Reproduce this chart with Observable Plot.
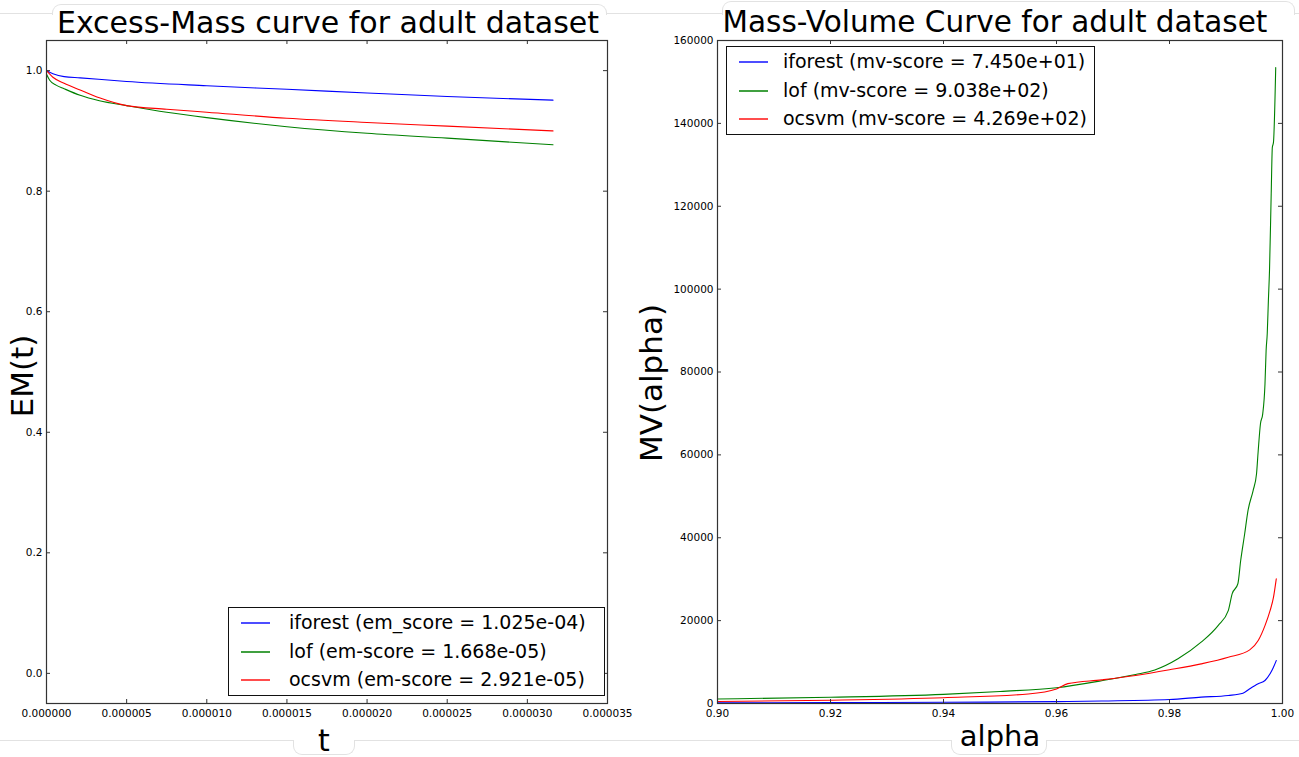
<!DOCTYPE html>
<html><head><meta charset="utf-8">
<script src="https://cdn.jsdelivr.net/npm/d3@7"></script>
<script src="https://cdn.jsdelivr.net/npm/@observablehq/plot@0.6"></script>
<style>
html,body{margin:0;padding:0;background:#fff;}
#wrap{position:relative;width:1299px;height:757px;overflow:hidden;font-family:"DejaVu Sans",sans-serif;color:#000;}
.abs{position:absolute;white-space:nowrap;line-height:1;}
.hline{position:absolute;height:1px;background:#e2e2e2;left:0;width:1299px;}
.tbox{position:absolute;background:#fff;border:1px solid #e2e2e2;border-bottom:none;border-radius:9px 9px 0 0;}
.bbox{position:absolute;background:#fff;border:1px solid #e2e2e2;border-top:none;border-radius:0 0 9px 9px;}
.legend{position:absolute;border:1.5px solid #111;background:#fff;box-sizing:border-box;}
.legend .sw{position:absolute;height:2px;}
.legend .lt{position:absolute;font-size:19px;line-height:1;white-space:nowrap;}
svg.panel{position:absolute;top:0;}
</style></head><body><div id="wrap"></div>
<script>
// ---------- data: Excess-Mass (left) ----------
const emXTicks = [0, 0.000005, 0.00001, 0.000015, 0.00002, 0.000025, 0.00003, 0.000035];
const emYTicks = [0, 0.2, 0.4, 0.6, 0.8, 1.0];
const emIforestT = [0, 0.0000004, 0.0000011, 0.0000021, 0.000005, 0.00001, 0.000015, 0.00002, 0.000025, 0.0000316];
const emIforestV = [1.0, 0.995, 0.990, 0.988, 0.982, 0.975, 0.969, 0.963, 0.957, 0.951];
const emLofT = [0, 0.0000002, 0.0000006, 0.0000011, 0.0000021, 0.0000033, 0.000005, 0.0000075, 0.00001, 0.000015, 0.00002, 0.000025, 0.0000316];
const emLofV = [0.994, 0.984, 0.976, 0.970, 0.959, 0.950, 0.942, 0.931, 0.922, 0.907, 0.896, 0.888, 0.877];
const emOcsvmT = [0, 0.0000004, 0.0000011, 0.0000021, 0.0000033, 0.000005, 0.0000075, 0.00001, 0.000015, 0.00002, 0.000025, 0.0000316];
const emOcsvmV = [1.0, 0.989, 0.979, 0.968, 0.955, 0.942, 0.936, 0.931, 0.921, 0.914, 0.908, 0.900];
const emLegend = ["iforest (em_score = 1.025e-04)", "lof (em-score = 1.668e-05)", "ocsvm (em-score = 2.921e-05)"];

// ---------- data: Mass-Volume (right) ----------
const mvXTicks = [0.90, 0.92, 0.94, 0.96, 0.98, 1.00];
const mvYTicks = [0, 20000, 40000, 60000, 80000, 100000, 120000, 140000, 160000];
const mvIforestA = [0.900, 0.920, 0.940, 0.960, 0.968, 0.980, 0.9856, 0.9904, 0.9930, 0.9942, 0.9957, 0.9969, 0.9978, 0.9984, 0.9989];
const mvIforestV = [150, 200, 300, 450, 600, 960, 1530, 1930, 2490, 3540, 4750, 5550, 7160, 8760, 10370];
const mvLofA = [0.900, 0.920, 0.940, 0.950, 0.960, 0.968, 0.974, 0.9774, 0.9815, 0.9856, 0.9886, 0.9904, 0.9911, 0.9921, 0.9926, 0.9933, 0.9939, 0.9948, 0.9954, 0.9957, 0.9961, 0.9965, 0.9969, 0.9971, 0.9973, 0.9975, 0.9977, 0.9980, 0.9982, 0.9984, 0.9988];
const mvLofV = [1100, 1500, 2200, 2900, 3800, 5500, 7000, 8100, 10800, 14800, 18800, 22400, 26500, 28900, 34500, 40900, 46600, 51400, 55400, 61000, 67500, 69900, 77100, 85200, 89300, 97200, 104500, 123000, 134200, 135400, 153500];
const mvOcsvmA = [0.900, 0.920, 0.940, 0.955, 0.960, 0.962, 0.968, 0.974, 0.980, 0.9856, 0.9904, 0.9942, 0.9957, 0.9969, 0.9978, 0.9984, 0.9989];
const mvOcsvmV = [480, 800, 1400, 2300, 3500, 4800, 5700, 6750, 8130, 9570, 11170, 12950, 15200, 18800, 22400, 25600, 30100];
const mvLegend = ["iforest (mv-score = 7.450e+01)", "lof (mv-score = 9.038e+02)", "ocsvm (mv-score = 4.269e+02)"];

const colors = ["#0000ff", "#008000", "#ff0000"];
const swatchColors = ["#4d4dff", "#40a040", "#ff4d4d"];

const wrap = document.getElementById("wrap");
function el(cls, css, text, parent) {
  const d = document.createElement("div");
  d.className = cls;
  Object.assign(d.style, css);
  if (text != null) d.textContent = text;
  (parent || wrap).appendChild(d);
  return d;
}

// faint background decorations
el("hline", {top: "13px"});
el("hline", {top: "740px"});
el("tbox", {left: "52px", top: "4px", width: "553px", height: "10px"});
el("tbox", {left: "722px", top: "1px", width: "571px", height: "13px"});
el("bbox", {left: "293px", top: "740px", width: "60px", height: "14px"});
el("bbox", {left: "951px", top: "740px", width: "94px", height: "14px"});

function pts(xs, ys) { return xs.map((x, i) => ({x, y: ys[i]})); }

function panel({width, left, marginLeft, marginRight, xDomain, yDomain, xTicks, yTicks, xFmt, yFmt, series}) {
  const height = 757, marginTop = 40, marginBottom = 54;
  const iw = width - marginLeft - marginRight, ih = height - marginTop - marginBottom, tk = 4;
  const svg = Plot.plot({
    width, height, marginLeft, marginRight, marginTop, marginBottom,
    className: "panel",
    style: {fontFamily: '"DejaVu Sans", sans-serif', fontSize: "10.5px", color: "#000", background: "transparent", overflow: "visible"},
    x: {domain: xDomain},
    y: {domain: yDomain},
    marks: [
      ...series.map((s, i) => Plot.line(pts(s[0], s[1]), {x: "x", y: "y", stroke: colors[i], strokeWidth: 1.1, curve: "monotone-x"})),
      Plot.tickX(xTicks, {x: d => d, insetTop: ih - tk, stroke: "#333"}),
      Plot.tickX(xTicks, {x: d => d, insetBottom: ih - tk, stroke: "#333"}),
      Plot.tickY(yTicks, {y: d => d, insetLeft: iw - tk, stroke: "#333"}),
      Plot.tickY(yTicks, {y: d => d, insetRight: iw - tk, stroke: "#333"}),
      Plot.frame({stroke: "#333", strokeWidth: 1.2}),
      Plot.axisX(xTicks, {tickSize: 0, tickPadding: 6, tickFormat: xFmt, label: null}),
      Plot.axisY(yTicks, {tickSize: 0, tickPadding: 4, tickFormat: yFmt, label: null})
    ]
  });
  svg.classList.add("panel");
  svg.style.left = left + "px";
  wrap.appendChild(svg);
}

panel({width: 640, left: 0, marginLeft: 46, marginRight: 33,
  xDomain: [0, 0.000035], yDomain: [-0.05, 1.05], xTicks: emXTicks, yTicks: emYTicks,
  xFmt: d3.format(".6f"), yFmt: d3.format(".1f"),
  series: [[emIforestT, emIforestV], [emLofT, emLofV], [emOcsvmT, emOcsvmV]]});

panel({width: 659, left: 640, marginLeft: 77, marginRight: 17,
  xDomain: [0.9, 1.0], yDomain: [0, 160000], xTicks: mvXTicks, yTicks: mvYTicks,
  xFmt: d3.format(".2f"), yFmt: d3.format("d"),
  series: [[mvIforestA, mvIforestV], [mvLofA, mvLofV], [mvOcsvmA, mvOcsvmV]]});

// titles
el("abs", {left: "328px", top: "8px", fontSize: "30px", transform: "translateX(-50%)"}, "Excess-Mass curve for adult dataset");
el("abs", {left: "995px", top: "8px", fontSize: "29.5px", transform: "translateX(-50%)"}, "Mass-Volume Curve for adult dataset");
// axis labels
el("abs", {left: "324px", top: "726px", fontSize: "30px", transform: "translateX(-50%)"}, "t");
el("abs", {left: "1000px", top: "722px", fontSize: "29px", transform: "translateX(-50%)"}, "alpha");
el("abs", {left: "22px", top: "376px", fontSize: "31px", transform: "translate(-50%,-50%) rotate(-90deg)"}, "EM(t)");
el("abs", {left: "651px", top: "383px", fontSize: "31px", transform: "translate(-50%,-50%) rotate(-90deg)"}, "MV(alpha)");

// legends
function legend(labels, left, top, width, height, textOff) {
  const box = el("legend", {left: left + "px", top: top + "px", width: width + "px", height: height + "px"});
  labels.forEach((lab, i) => {
    const cy = Math.round(15 + i * 28.5);
    el("sw", {left: "12px", width: "29px", top: (cy - 1) + "px", backgroundColor: swatchColors[i]}, null, box);
    el("lt", {left: textOff + "px", top: (cy - 10) + "px"}, lab, box);
  });
}
legend(emLegend, 228, 607, 377, 89, 60);
legend(mvLegend, 726, 46, 369, 89, 56);
</script>
</body></html>
